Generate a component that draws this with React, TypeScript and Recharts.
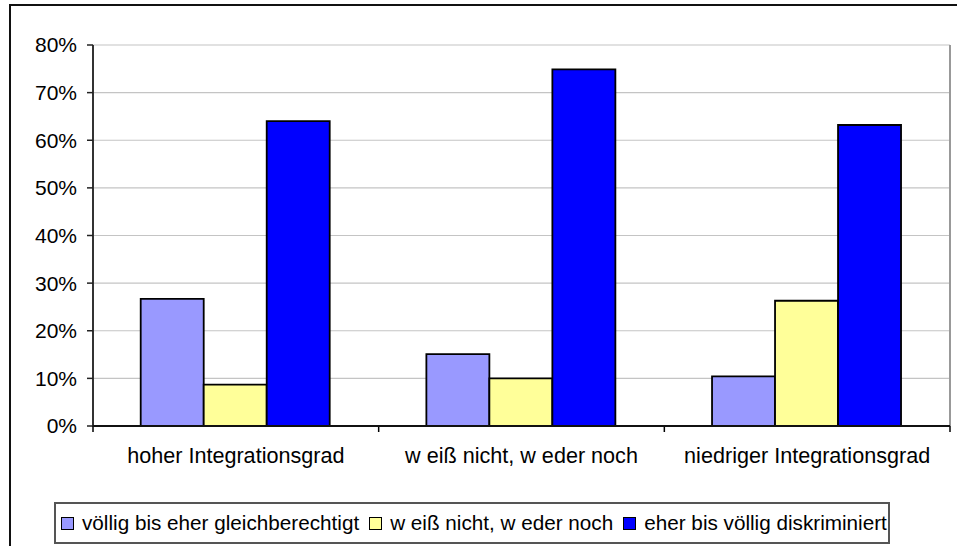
import React from 'react';
import { BarChart, Bar, XAxis, YAxis, CartesianGrid, Legend } from 'recharts';

const categories = ['hoher Integrationsgrad', 'w eiß nicht, w eder noch', 'niedriger Integrationsgrad'];
const seriesNames = ['völlig bis eher gleichberechtigt', 'w eiß nicht, w eder noch', 'eher bis völlig diskriminiert'];
const gleichberechtigt = [26.7, 15.1, 10.4];
const weissNicht = [8.7, 10.0, 26.3];
const diskriminiert = [64.0, 74.9, 63.2];
const yTicks = [0, 10, 20, 30, 40, 50, 60, 70, 80];
const colors = ['#9999FF', '#FFFF99', '#0000FF'];

const data = categories.map((c, i) => ({
  name: c,
  s0: gleichberechtigt[i],
  s1: weissNicht[i],
  s2: diskriminiert[i],
}));

const W = 957;
const H = 546;
const PLOT_LEFT = 93;
const PLOT_RIGHT = 950;
const PLOT_TOP = 45;
const PLOT_BOTTOM = 426;
const BAND = (PLOT_RIGHT - PLOT_LEFT) / categories.length;
const FONT = '"Liberation Sans", Arial, sans-serif';
const FS = 21;
const FS_X = 21.6;
const FS_LEG = 20.7;

const XTick = (props: any) => {
  const { x, payload, index } = props;
  const left = x - BAND / 2;
  const right = x + BAND / 2;
  return (
    <g>
      <line x1={left} y1={PLOT_BOTTOM} x2={left} y2={PLOT_BOTTOM + 6} stroke="#000" strokeWidth={1.5} />
      {index === categories.length - 1 && (
        <line x1={right} y1={PLOT_BOTTOM} x2={right} y2={PLOT_BOTTOM + 6} stroke="#000" strokeWidth={1.5} />
      )}
      <text x={x} y={PLOT_BOTTOM + 37} textAnchor="middle" fill="#000" fontSize={FS_X} fontFamily={FONT}>
        {payload.value}
      </text>
    </g>
  );
};

const renderLegend = () => (
  <div
    style={{
      boxSizing: 'border-box',
      width: 836,
      height: 42,
      border: '2px solid #555',
      background: '#fff',
      display: 'flex',
      alignItems: 'center',
      fontSize: FS_LEG,
      fontFamily: FONT,
      color: '#000',
      paddingLeft: 5,
      whiteSpace: 'nowrap',
    }}
  >
    {seriesNames.map((n, i) => (
      <span key={n} style={{ display: 'flex', alignItems: 'center', marginRight: 10 }}>
        <span
          style={{
            display: 'inline-block',
            boxSizing: 'border-box',
            width: 13,
            height: 13,
            border: '1.5px solid #000',
            background: colors[i],
            marginRight: 8,
          }}
        />
        {n}
      </span>
    ))}
  </div>
);

export default function App() {
  return (
    <div style={{ position: 'absolute', left: 0, top: 0, width: W, height: H, overflow: 'hidden', background: '#fff' }}>
      <div
        style={{
          position: 'absolute',
          left: 9,
          top: 4,
          width: 1000,
          height: 700,
          border: '2px solid #111',
          boxSizing: 'border-box',
        }}
      />
      <div style={{ position: 'absolute', left: 0, top: 0 }}>
        <BarChart
          width={W}
          height={H}
          data={data}
          margin={{ top: PLOT_TOP, right: 0, bottom: 0, left: 0 }}
          barCategoryGap="16.7%"
          barGap={0}
          style={{ fontFamily: FONT }}
        >
          <CartesianGrid vertical={false} stroke="#c4c4c4" strokeWidth={1.2} />
          <XAxis
            dataKey="name"
            height={H - PLOT_BOTTOM}
            axisLine={false}
            tickLine={false}
            tick={<XTick />}
            interval={0}
          />
          <XAxis
            xAxisId="top"
            dataKey="name"
            orientation="top"
            height={0}
            tick={false}
            tickLine={false}
            axisLine={{ stroke: '#999', strokeWidth: 2 }}
          />
          <YAxis
            domain={[0, 80]}
            ticks={yTicks}
            width={PLOT_LEFT}
            tickFormatter={(v: number) => `${v}%`}
            tick={{ fill: '#000', fontSize: FS, fontFamily: FONT }}
            tickSize={6}
            tickMargin={10}
            tickLine={{ stroke: '#222', strokeWidth: 1.5 }}
            axisLine={{ stroke: '#333', strokeWidth: 2 }}
            interval={0}
          />
          <YAxis
            yAxisId="right"
            orientation="right"
            domain={[0, 80]}
            width={W - PLOT_RIGHT}
            tick={false}
            tickLine={false}
            axisLine={{ stroke: '#999', strokeWidth: 2 }}
          />
          <Legend
            layout="horizontal"
            verticalAlign="middle"
            align="center"
            wrapperStyle={{ position: 'absolute', left: 54, top: 502, width: 836, height: 42 }}
            content={renderLegend}
          />
          <Bar dataKey="s0" name={seriesNames[0]} fill={colors[0]} stroke="#000" strokeWidth={1.8} isAnimationActive={false} />
          <Bar dataKey="s1" name={seriesNames[1]} fill={colors[1]} stroke="#000" strokeWidth={1.8} isAnimationActive={false} />
          <Bar dataKey="s2" name={seriesNames[2]} fill={colors[2]} stroke="#000" strokeWidth={1.8} isAnimationActive={false} />
        </BarChart>
      </div>
      <svg
        width={W}
        height={H}
        style={{ position: 'absolute', left: 0, top: 0, pointerEvents: 'none' }}
      >
        <line x1={PLOT_LEFT} y1={PLOT_BOTTOM} x2={PLOT_RIGHT} y2={PLOT_BOTTOM} stroke="#111" strokeWidth={2} />
      </svg>
    </div>
  );
}
